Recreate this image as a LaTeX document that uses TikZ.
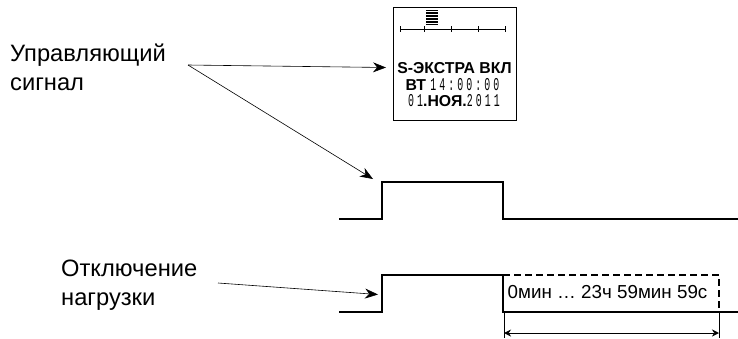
\documentclass[tikz,border=0pt]{standalone}
\usepackage{fontspec}
\setmainfont{Liberation Sans}
\newfontfamily\lcdfont[FakeStretch=0.55,LetterSpace=17]{Liberation Mono}
\usetikzlibrary{arrows.meta, positioning}
\newcommand{\lcdNum}[1]{{\lcdfont\mdseries\fontsize{18}{15}\selectfont #1}}
\tikzset{
    x=1pt, y=-1pt,
    >={Stealth[length=13pt,width=10pt]},
    % Signals
    sig/.style={line width=1.9pt, line join=miter},
    sigDash/.style={sig, dash pattern=on 7pt off 4pt},
    % Labels
    lbl/.style={font=\fontsize{23.7}{29}\selectfont, align=left, anchor=north west, inner sep=0pt},
    lcdLine/.style={font=\fontsize{15.8}{15}\selectfont\bfseries, inner sep=0pt},
    rangeLbl/.style={font=\fontsize{18.8}{20}\selectfont, inner sep=0pt},
    % Arrows
    flow/.style={->, line width=0.6pt},
    dimLine/.style={line width=0.5pt},
    lcdBox/.style={draw, line width=0.9pt, minimum width=123pt, minimum height=113pt, inner sep=0pt},
    scaleLine/.style={line width=0.8pt}
}
\begin{document}
\begin{tikzpicture}
\useasboundingbox (0,0) rectangle (738,338);

% Display
\node[lcdBox] (lcd) at (454.5,63.5) {};
\coordinate (scaleL) at (400,29);
\coordinate (scaleR) at (505,29);
\draw[scaleLine] (scaleL) -- (scaleR);
\foreach \tx in {400,424,451,478,505}
    \draw[scaleLine] (\tx,26) -- (\tx,32);
\foreach \ty in {10.5,12,...,24}
    \draw[line width=0.5pt] (426,\ty) -- (438,\ty);
\node[lcdLine, anchor=base] (mode) at (454.5,73.5) {S-ЭКСТРА ВКЛ};
\node[lcdLine, anchor=base] (clock) at (452.5,90) {ВТ \lcdNum{14:00:00}};
\node[lcdLine, anchor=base] (date) at (454,106) {\lcdNum{01}.НОЯ.\lcdNum{2011}};

% Labels
\node[lbl] (ctrlLbl) at (10,44) {Управляющий\\сигнал};
\node[lbl] (loadLbl) at (61,259.5) {Отключение\\нагрузки};

% Signals
\coordinate (a0) at (339,219);
\coordinate (a1) at (382,219);
\coordinate (a2) at (382,182);
\coordinate (a3) at (503,182);
\coordinate (a4) at (503,219);
\coordinate (a5) at (738,219);
\draw[sig] (a0) -- (a1) -- (a2) -- (a3) -- (a4) -- (a5);

\coordinate (b0) at (339,312);
\coordinate (b1) at (382,312);
\coordinate (b2) at (382,275);
\coordinate (b3) at (503,275);
\coordinate (b4) at (503,312);
\coordinate (b5) at (738,312);
\coordinate (b6) at (719,275);
\coordinate (b7) at (719,312);
\draw[sig] (b0) -- (b1) -- (b2) -- (b3) -- (b4) -- (b5);
\draw[sigDash] (b3) -- (b6) -- (b7);
\node[rangeLbl] (delay) at (607.5,292) {0мин … 23ч 59мин 59с};

% Duration
\coordinate (d0) at (504,338);
\coordinate (d1) at (719,338);
\coordinate (e0) at (504,333);
\coordinate (e1) at (719,333);
\draw[dimLine] (b4 -| d0) -- (d0);
\draw[dimLine] (b7) -- (d1);
\draw[dimLine, <->, >={Stealth[length=7pt,width=7pt]}] (e0) -- (e1);

% Pointers
\coordinate (ctrlOut) at (188,65);
\coordinate (lcdIn) at (386,67.5);
\coordinate (sigIn) at (373,179);
\coordinate (loadOut) at (218,283);
\coordinate (loadIn) at (378,294.5);
\draw[flow] (ctrlOut) -- (lcdIn);
\draw[flow] (ctrlOut) -- (sigIn);
\draw[flow] (loadOut) -- (loadIn);

\end{tikzpicture}
\end{document}
